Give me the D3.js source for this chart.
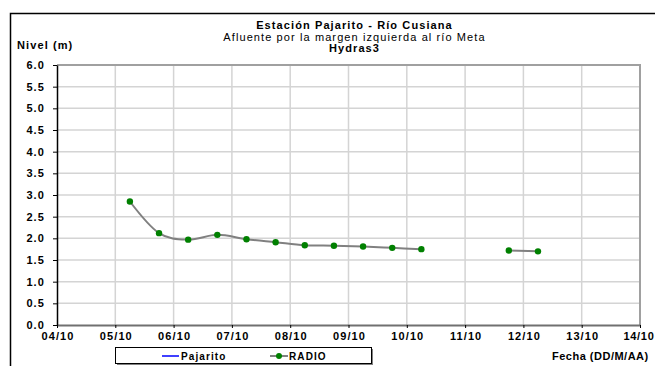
<!DOCTYPE html>
<html><head><meta charset="utf-8">
<script src="https://cdn.jsdelivr.net/npm/d3@7"></script>
<style>body{margin:0;background:#fff}svg{display:block;font-family:"Liberation Sans",Arial,sans-serif}svg text{letter-spacing:1.1px}</style>
</head><body><svg id="c" width="655" height="366"></svg>
<script>
const titleLines = ["Estación Pajarito - Río Cusiana", "Afluente por la margen izquierda al río Meta", "Hydras3"];
const yLabel = "Nivel (m)";
const xLabel = "Fecha (DD/M/AA)";
const xTickLabels = ["04/10","05/10","06/10","07/10","08/10","09/10","10/10","11/10","12/10","13/10","14/10"];
const yTicks = [0,0.5,1,1.5,2,2.5,3,3.5,4,4.5,5,5.5,6];
const radioTimes = ["2010-10-05T06:00","2010-10-05T18:00","2010-10-06T06:00","2010-10-06T18:00","2010-10-07T06:00","2010-10-07T18:00","2010-10-08T06:00","2010-10-08T18:00","2010-10-09T06:00","2010-10-09T18:00","2010-10-10T06:00","2010-10-10T18:00","2010-10-11T06:00","2010-10-11T18:00","2010-10-12T06:00"];
const radioValues = [2.85,2.12,1.97,2.08,1.98,1.91,1.84,1.83,1.81,1.78,1.75,null,null,1.72,1.70];
const pajaritoValues = [];
const legendNames = ["Pajarito","RADIO"];

const svg = d3.select("#c");
const parse = d3.utcParse("%Y-%m-%dT%H:%M");
const data = radioTimes.map((t,i)=>({t:parse(t), v:radioValues[i]}));
const tickDates = xTickLabels.map(s=>{const [d,m]=s.split("/"); return new Date(Date.UTC(2010,+m-1,+d));});

const L=57, R=640, T=65, B=325;
const x = d3.scaleUtc().domain([tickDates[0], tickDates[tickDates.length-1]]).range([L,R]);
const y = d3.scaleLinear().domain([0,6]).range([B,T]);

// outer frame
svg.append("path").attr("d",`M10.5,366 V13.5 H655`).attr("fill","none").attr("stroke","#000").attr("stroke-width",1.5);

// grid
svg.append("g").selectAll("line").data(yTicks.slice(1,-1)).join("line")
  .attr("x1",L).attr("x2",R).attr("y1",d=>y(d)).attr("y2",d=>y(d)).attr("stroke","#d4d4d4").attr("stroke-width",1.5);
svg.append("g").selectAll("line").data(tickDates.slice(1,-1)).join("line")
  .attr("x1",d=>x(d)).attr("x2",d=>x(d)).attr("y1",T).attr("y2",B).attr("stroke","#d4d4d4").attr("stroke-width",1.5);
// plot top/right border
svg.append("path").attr("d",`M${L},${T} H${R} V${B}`).attr("fill","none").attr("stroke","#a0a0a0").attr("stroke-width",2);

// axes
const xAxis = d3.axisBottom(x).tickValues(tickDates).tickFormat((d,i)=>xTickLabels[i]).tickSize(3).tickSizeOuter(0);
const gx = svg.append("g").attr("transform",`translate(0,${B})`).call(xAxis);
gx.select(".domain").attr("stroke","#707070").attr("stroke-width",2);
gx.selectAll(".tick line").attr("stroke","#000");
gx.selectAll("text").attr("font-family","Liberation Sans, Arial, sans-serif").attr("font-size",11).attr("font-weight","bold").attr("fill","#000").attr("dy","0.9em").attr("y",5).attr("dx",0.5);
// last label kept inside the canvas
gx.selectAll(".tick").filter((d,i,n)=>i===n.length-1).select("text")
  .attr("text-anchor","end").attr("dx",14).style("letter-spacing","0.7px");

const yAxis = d3.axisLeft(y).tickValues(yTicks).tickFormat(d3.format(".1f")).tickSize(4).tickSizeOuter(0);
const gy = svg.append("g").attr("transform",`translate(${L},0)`).call(yAxis);
gy.select(".domain").attr("stroke","#000").attr("stroke-width",1.5);
gy.selectAll(".tick line").attr("stroke","#000");
gy.selectAll("text").attr("font-family","Liberation Sans, Arial, sans-serif").attr("font-size",11).attr("font-weight","bold").attr("fill","#000").attr("x",-12);

// line
const line = d3.line().defined(d=>d.v!=null).x(d=>x(d.t)).y(d=>y(d.v)).curve(d3.curveCatmullRom.alpha(0));
svg.append("path").datum(data).attr("d",line).attr("fill","none").attr("stroke","#808080").attr("stroke-width",2);
svg.append("g").selectAll("circle").data(data.filter(d=>d.v!=null)).join("circle")
  .attr("cx",d=>x(d.t)).attr("cy",d=>y(d.v)).attr("r",3.2).attr("fill","#008000");

// titles
const cx = 354.5;
svg.append("text").attr("x",cx).attr("y",29).attr("text-anchor","middle").attr("font-size",11).attr("font-weight","bold").text(titleLines[0]);
svg.append("text").attr("x",cx).attr("y",41).attr("text-anchor","middle").attr("font-size",11).text(titleLines[1]);
svg.append("text").attr("x",cx).attr("y",52).attr("text-anchor","middle").attr("font-size",11).attr("font-weight","bold").text(titleLines[2]);
svg.append("text").attr("x",17).attr("y",49).attr("font-size",11).attr("font-weight","bold").text(yLabel);
svg.append("text").attr("x",552).attr("y",360).attr("font-size",11).attr("font-weight","bold").style("letter-spacing","0.5px").text(xLabel);

// legend
const lg = svg.append("g");
lg.append("rect").attr("x",117).attr("y",349).attr("width",256).attr("height",16).attr("fill","#808080");
lg.append("rect").attr("x",115.5).attr("y",347.5).attr("width",256).attr("height",16).attr("fill","#fff").attr("stroke","#000").attr("stroke-width",1);
lg.append("line").attr("x1",162).attr("x2",179).attr("y1",356).attr("y2",356).attr("stroke","#0000ff").attr("stroke-width",1.5);
lg.append("text").attr("x",181).attr("y",360).attr("font-size",10).attr("font-weight","bold").text(legendNames[0]);
lg.append("line").attr("x1",270).attr("x2",288).attr("y1",356).attr("y2",356).attr("stroke","#808080").attr("stroke-width",2);
lg.append("circle").attr("cx",279).attr("cy",356).attr("r",3).attr("fill","#008000");
lg.append("text").attr("x",289).attr("y",360).attr("font-size",10).attr("font-weight","bold").text(legendNames[1]);
</script></body></html>
